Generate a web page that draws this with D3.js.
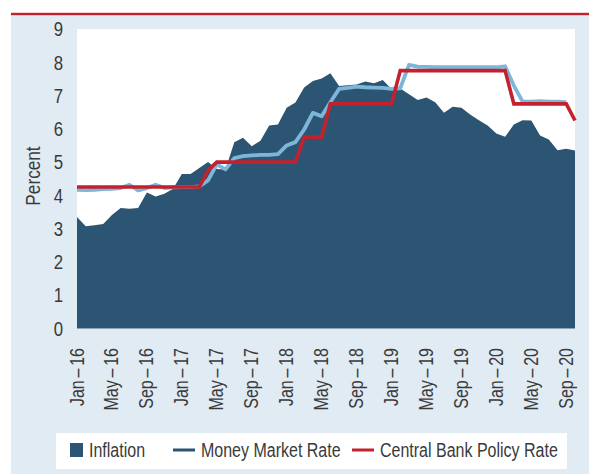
<!DOCTYPE html>
<html>
<head>
<meta charset="utf-8">
<script src="https://cdn.jsdelivr.net/npm/d3@7"></script>
<style>
  body { margin: 0; background: #fff; }
  svg text { font-family: "Liberation Sans", Arial, sans-serif; fill: #3a3a3a; }
</style>
</head>
<body>
<div class="viz"></div>
<script>
// monthly data, Jan-16 .. Oct-20
const startMonth = new Date(2016, 0, 1)
const endMonth = new Date(2020, 9, 1)

const inflation = [
  3.35, 3.07, 3.10, 3.14, 3.41, 3.62, 3.60, 3.62, 4.09, 3.97, 4.05, 4.20,
  4.64, 4.64, 4.82, 5.00, 4.79, 4.78, 5.60, 5.73, 5.48, 5.64, 6.10, 6.13,
  6.63, 6.79, 7.24, 7.44, 7.51, 7.67, 7.29, 7.31, 7.33, 7.42, 7.37, 7.47,
  7.20, 7.21, 7.04, 6.87, 6.94, 6.80, 6.48, 6.66, 6.63, 6.43, 6.26, 6.10,
  5.86, 5.76, 6.13, 6.26, 6.25, 5.80, 5.68, 5.36, 5.40, 5.35
]
const moneyMarket = [
  4.17, 4.16, 4.17, 4.19, 4.20, 4.22, 4.32, 4.15, 4.22, 4.32, 4.22, 4.24,
  4.25, 4.25, 4.27, 4.45, 4.93, 4.78, 5.12, 5.18, 5.20, 5.22, 5.22, 5.24,
  5.50, 5.60, 5.98, 6.48, 6.38, 6.80, 7.20, 7.23, 7.27, 7.25, 7.24, 7.23,
  7.20, 7.22, 7.92, 7.87, 7.86, 7.85, 7.85, 7.85, 7.85, 7.85, 7.85, 7.85,
  7.85, 7.88, 7.30, 6.82, 6.82, 6.83, 6.82, 6.82, 6.80
]
const policyRate = [
  4.25, 4.25, 4.25, 4.25, 4.25, 4.25, 4.25, 4.25, 4.25, 4.25, 4.25, 4.25,
  4.25, 4.25, 4.25, 4.75, 5.00, 5.00, 5.00, 5.00, 5.00, 5.00, 5.00, 5.00,
  5.00, 5.00, 5.75, 5.75, 5.75, 6.75, 6.75, 6.75, 6.75, 6.75, 6.75, 6.75,
  6.75, 7.75, 7.75, 7.75, 7.75, 7.75, 7.75, 7.75, 7.75, 7.75, 7.75, 7.75,
  7.75, 7.75, 6.75, 6.75, 6.75, 6.75, 6.75, 6.75, 6.75, 6.25
]
const yTicks = [0, 1, 2, 3, 4, 5, 6, 7, 8, 9]
const legendNames = ['Inflation', 'Money Market Rate', 'Central Bank Policy Rate']

const W = 589, H = 474
const plot = { left: 77, right: 575, top: 29, bottom: 328.5 }
const colors = { inflation: '#2b5573', money: '#7db6d9', policy: '#c4212e', panel: '#e1ebf4' }
const narrow = 0.8 // no condensed font installed, squeeze glyphs with a scale instead

const months = d3.timeMonth.range(startMonth, d3.timeMonth.offset(endMonth, 1))

const svg = d3.select('.viz')
  .append('svg')
    .attr('width', W)
    .attr('height', H)

// panel + red rule on top
svg.append('rect').attr('x', 11).attr('y', 15).attr('width', W - 11).attr('height', H - 15).attr('fill', colors.panel)
svg.append('rect').attr('x', 11).attr('y', 12.8).attr('width', W - 11).attr('height', 2.4).attr('fill', colors.policy)
svg.append('rect')
  .attr('x', plot.left).attr('y', plot.top)
  .attr('width', plot.right - plot.left).attr('height', plot.bottom - plot.top)
  .attr('fill', '#fff')

const x = d3.scalePoint().domain(months.map(d => +d)).range([plot.left, plot.right])
const y = d3.scaleLinear().domain([0, 9]).range([plot.bottom, plot.top])

const area = d3.area()
  .x((d, i) => x(+months[i]))
  .y0(y(0))
  .y1(d => y(d))
const line = d3.line()
  .x((d, i) => x(+months[i]))
  .y(d => y(d))

svg.append('path').datum(inflation).attr('d', area).attr('fill', colors.inflation)
svg.append('path').datum(moneyMarket).attr('d', line)
  .attr('fill', 'none').attr('stroke', colors.money).attr('stroke-width', 3.8).attr('stroke-linejoin', 'round')
svg.append('path').datum(policyRate).attr('d', line)
  .attr('fill', 'none').attr('stroke', colors.policy).attr('stroke-width', 3.6).attr('stroke-linejoin', 'miter')

// y axis (labels only)
const yAxis = svg.append('g')
  .attr('transform', `translate(${plot.left - 14},0)`)
  .call(d3.axisLeft(y).tickValues(yTicks).tickSize(0).tickPadding(0))
yAxis.select('.domain').remove()
yAxis.selectAll('text')
  .attr('transform', `scale(${narrow},1)`)
  .style('font-size', '21px')

svg.append('text')
  .attr('transform', `translate(40,176) rotate(-90) scale(0.82,1)`)
  .attr('text-anchor', 'middle')
  .style('font-size', '21px')
  .text('Percent')

// x axis (rotated labels, every 4 months)
const fmt = d3.timeFormat('%b')
const xAxis = svg.append('g')
  .attr('transform', `translate(0,${plot.bottom})`)
  .call(d3.axisBottom(x)
    .tickValues(months.filter((d, i) => i % 4 === 0).map(d => +d))
    .tickSize(0)
    .tickFormat(''))
xAxis.select('.domain').remove()
xAxis.selectAll('.tick text').remove()
const xLabels = xAxis.selectAll('.tick').append('text')
  .attr('transform', `rotate(-90) scale(${narrow},1)`)
  .attr('text-anchor', 'end')
  .attr('x', -19.5 / narrow)
  .attr('y', -1)
  .attr('dy', '0.35em')
  .style('font-size', '20px')
xLabels.append('tspan').text(d => fmt(new Date(d)))
xLabels.append('tspan').attr('dx', 3.5).text('–')
xLabels.append('tspan').attr('dx', 3.5).text(d => String(new Date(d).getFullYear()).slice(2))

// legend
const legend = svg.append('g')
legend.append('rect').attr('x', 56).attr('y', 433).attr('width', 511).attr('height', 36).attr('fill', '#fff')
const legendX = [70, 173, 352]
const legendItems = legend.selectAll('g.item')
  .data(legendNames).enter().append('g')
  .attr('class', 'item')
  .attr('transform', (d, i) => `translate(${legendX[i]},450)`)
legendItems.filter((d, i) => i === 0).append('rect')
  .attr('x', 0).attr('y', -7).attr('width', 13).attr('height', 14).attr('fill', colors.inflation)
legendItems.filter((d, i) => i > 0).append('line')
  .attr('x1', 0).attr('x2', 22).attr('y1', 0).attr('y2', 0)
  .attr('stroke', (d, i) => i === 0 ? colors.inflation : colors.policy)
  .attr('stroke-width', 3)
legendItems.append('text')
  .attr('transform', (d, i) => `translate(${i === 0 ? 19 : 28},0) scale(${narrow},1)`)
  .attr('dy', '0.35em')
  .style('font-size', '20px')
  .text(d => d)
</script>
</body>
</html>
